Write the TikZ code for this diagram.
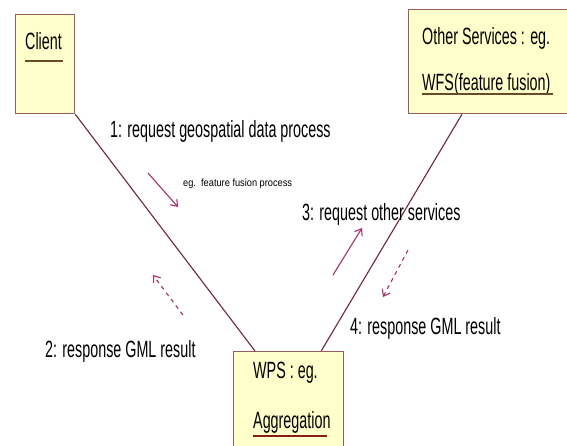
\documentclass[tikz,border=0pt]{standalone}
\usepackage{fontspec}
\usepackage{graphicx}
\setmainfont{Liberation Sans}
\usetikzlibrary{arrows.meta}
\definecolor{boxfill}{HTML}{FFFFCC}
\definecolor{boxline}{HTML}{9A5C5C}
\definecolor{linkcol}{HTML}{6E2446}
\definecolor{arrcol}{HTML}{A8306C}
\definecolor{ulcol}{HTML}{6B4A2A}
\definecolor{ulred}{HTML}{8B1A1A}
\newcommand{\sqz}[1]{\scalebox{0.61}[1]{#1}}
\tikzset{
  objbox/.style={draw=boxline, fill=boxfill, line width=1.2pt, anchor=north west, inner sep=0pt},
  lbl/.style={anchor=base west, inner sep=0pt, text=black, font=\fontsize{23.5}{28}\selectfont},
  smalllbl/.style={anchor=base west, inner sep=0pt, text=black, font=\fontsize{10.5}{12}\selectfont},
  link/.style={draw=linkcol, line width=1.1pt},
  msg/.style={draw=arrcol, line width=1.1pt, -{Straight Barb[length=6pt,width=9pt]}},
  rmsg/.style={msg, dash pattern=on 4pt off 4pt},
  uline/.style={line width=1.5pt}
}
\begin{document}
\begin{tikzpicture}[x=1pt,y=-1pt]
\useasboundingbox (0,0) rectangle (567,445);
\clip (0,0) rectangle (567,445);
\fill[white] (0,0) rectangle (567,445);
% boxes
\node[objbox, minimum width=59pt, minimum height=99pt] (client) at (15,14) {};
\node[objbox, minimum width=170pt, minimum height=104pt] (other) at (408,9) {};
\node[objbox, minimum width=110pt, minimum height=110pt] (wps) at (233,351) {};
% box texts
\node[lbl] (tclient) at (25,49) {\sqz{Client}};
\draw[uline, ulcol] (25,61) -- (63,61);
\node[lbl] (tother1) at (422,44) {\sqz{Other Services : eg.}};
\node[lbl] (tother2) at (422,90) {\sqz{WFS(feature fusion)}};
\draw[uline, ulcol] (422,94) -- (553,94);
\node[lbl] (twps1) at (253,378) {\sqz{WPS : eg.}};
\node[lbl] (twps2) at (253,428) {\sqz{Aggregation}};
\draw[uline, ulred] (253,436) -- (327,436);
% links
\draw[link] (client.south east) -- ([xshift=22pt]wps.north west);
\draw[link] ([xshift=54pt]other.south west) -- ([xshift=-23pt]wps.north east);
% message arrows
\coordinate (m1a) at (148,173); \coordinate (m1b) at (178,207);
\coordinate (m2a) at (183,315); \coordinate (m2b) at (153,275);
\coordinate (m3a) at (333,275); \coordinate (m3b) at (362,228);
\coordinate (m4a) at (408,250); \coordinate (m4b) at (383,297);
\draw[msg] (m1a) -- (m1b);
\draw[rmsg] (m2a) -- (m2b);
\draw[msg] (m3a) -- (m3b);
\draw[rmsg] (m4a) -- (m4b);
% labels
\node[lbl] (l1) at (110,137) {\sqz{1: request geospatial data process}};
\node[smalllbl] (l1b) at (183,186) {\scalebox{0.88}[1]{eg.\ \ feature fusion process}};
\node[lbl] (l3) at (302,220) {\sqz{3: request other services}};
\node[lbl] (l4) at (350,334) {\sqz{4: response GML result}};
\node[lbl] (l2) at (45,357) {\sqz{2: response GML result}};
\end{tikzpicture}
\end{document}
